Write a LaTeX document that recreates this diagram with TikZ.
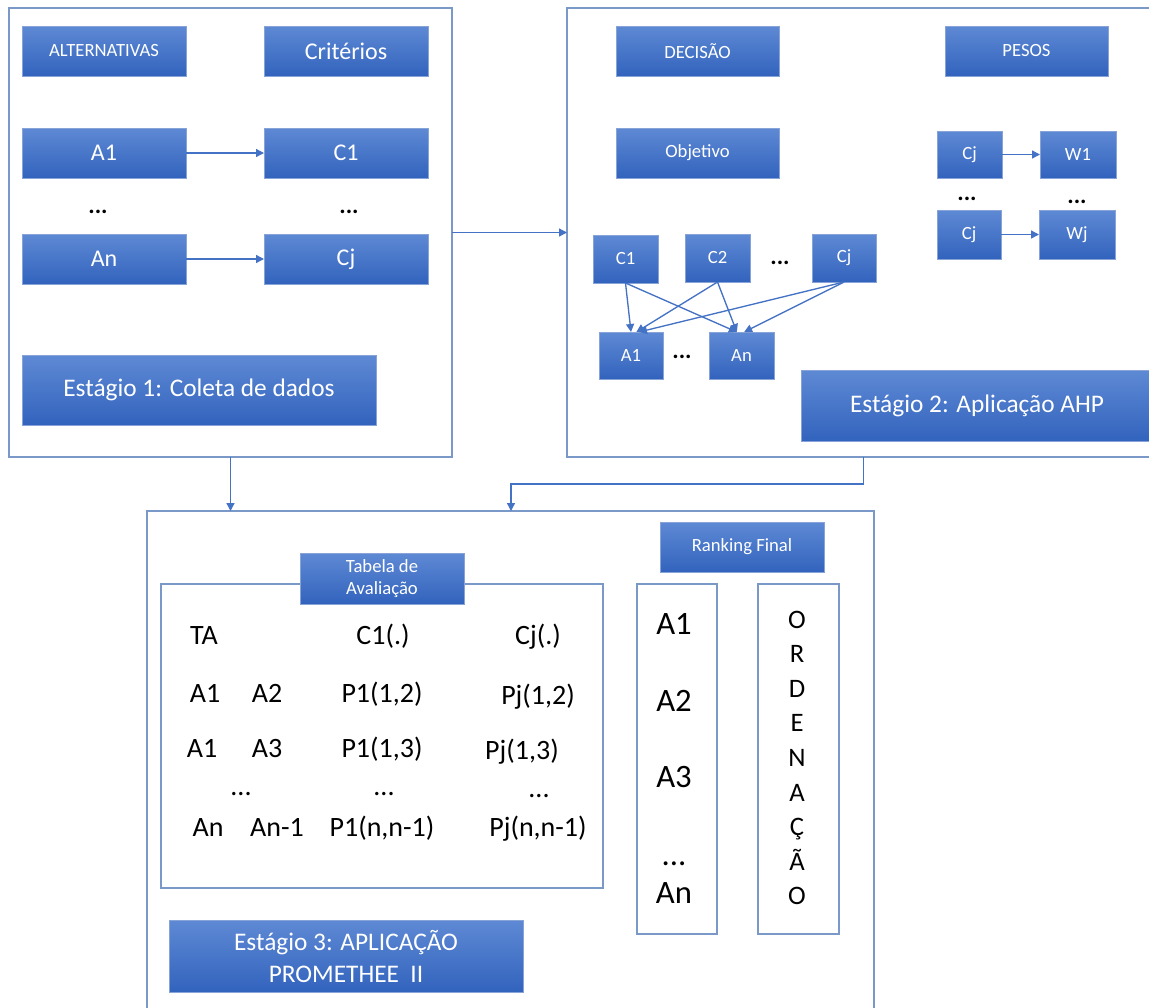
\documentclass[tikz,border=0pt]{standalone}
\usepackage{fontspec}
\setmainfont{Carlito}
\usetikzlibrary{arrows.meta}
\definecolor{btop}{RGB}{94,137,212}
\definecolor{bbot}{RGB}{50,99,189}
\definecolor{bedge}{RGB}{135,163,215}
\definecolor{framec}{RGB}{122,152,200}
\definecolor{conn}{RGB}{68,114,196}
\newcommand\mkbox[7][]{\node[#1, minimum width={(#5-#3)*0.75pt}, minimum height={(#6-#4)*0.75pt}] (#2) at ({(#3+#5)/2},{(#4+#6)/2}) {#7};}
\tikzset{
  bluebox/.style={inner sep=0pt, outer sep=0pt, draw=bedge, line width=0.75pt, top color=btop, bottom color=bbot, text=white, align=center},
  framebox/.style={draw=framec, line width=0.9pt, inner sep=0pt, outer sep=0pt},
  fsS/.style={font=\fontsize{14pt}{17pt}\selectfont},
  fsM/.style={font=\fontsize{18pt}{21pt}\selectfont},
  fsL/.style={font=\fontsize{19pt}{24pt}\selectfont},
  tt/.style={anchor=base, inner sep=0pt, font=\fontsize{21pt}{25pt}\selectfont},
  colt/.style={anchor=base, inner sep=0pt, font=\fontsize{24.5pt}{28pt}\selectfont},
  ordt/.style={anchor=base, inner sep=0pt, font=\fontsize{20pt}{24pt}\selectfont},
  dotsb/.style={anchor=base, inner sep=0pt, font=\bfseries\fontsize{18pt}{21pt}\selectfont},
  arr/.style={draw=conn, line width=1pt, -{Triangle[width=6pt,length=6pt]}},
}
\begin{document}
\begin{tikzpicture}[x=0.75pt,y=-0.75pt]
\useasboundingbox (0,0) rectangle (1149,1007);
\fill[white] (0,0) rectangle (1149,1007);
% outer frames
\mkbox[framebox]{st1}{9}{8}{452}{457}{}
\mkbox[framebox]{st2}{567}{8}{1160}{457}{}
\mkbox[framebox]{st3}{147}{511}{874}{1020}{}
% stage 1
\mkbox[bluebox,fsS]{alt}{22}{26}{186}{76}{ALTERNATIVAS}
\mkbox[bluebox,fsM]{crit}{264}{26}{428}{76}{Critérios}
\mkbox[bluebox,fsM]{a1}{22}{128}{186}{178}{A1}
\mkbox[bluebox,fsM]{c1}{264}{128}{428}{178}{C1}
\mkbox[bluebox,fsM]{an}{22}{234}{186}{284}{An}
\mkbox[bluebox,fsM]{cj}{264}{234}{428}{284}{Cj}
\mkbox[bluebox,fsL]{e1}{22}{355}{376}{425}{Estágio 1: Coleta de dados}
\node[dotsb] (d1) at (98,213) {...};
\node[dotsb] (d2) at (349,213) {...};
\draw[arr] (a1) -- (c1);
\draw[arr] (an) -- (cj);
% stage 2
\mkbox[bluebox,fsS]{dec}{616}{26}{779}{76}{DECISÃO}
\mkbox[bluebox,fsS]{pes}{945}{26}{1108}{76}{PESOS}
\mkbox[bluebox,fsS]{obj}{616}{128}{779}{178}{Objetivo}
\mkbox[bluebox,fsS]{wc1}{937}{131}{1002}{178}{Cj}
\mkbox[bluebox,fsS]{w1}{1040}{131}{1116}{178}{W1}
\mkbox[bluebox,fsS]{wc2}{937}{210}{1001}{259}{Cj}
\mkbox[bluebox,fsS]{wj}{1039}{210}{1115}{259}{Wj}
\node[dotsb] (d3) at (967,200) {...};
\node[dotsb] (d4) at (1077,203) {...};
\draw[arr] (wc1) -- (w1);
\draw[arr] (wc2) -- (wj);
\mkbox[bluebox,fsS]{ac1}{593}{235}{658}{283}{C1}
\mkbox[bluebox,fsS]{ac2}{685}{234}{750}{282}{C2}
\mkbox[bluebox,fsS]{acj}{812}{234}{876}{282}{Cj}
\node[dotsb] (d5) at (780,264) {...};
\mkbox[bluebox,fsS]{aa1}{599}{332}{663}{379}{A1}
\mkbox[bluebox,fsS]{aan}{709}{332}{774}{379}{An}
\node[dotsb] (d6) at (682,358) {...};
\draw[arr] (ac1.south) -- (aa1.north);
\draw[arr] (ac1.south) -- ([xshift=-3.5pt]aan.north);
\draw[arr] (ac2.south) -- ([xshift=4pt]aa1.north);
\draw[arr] (ac2.south) -- ([xshift=-3.5pt]aan.north);
\draw[arr] (acj.south) -- ([xshift=6pt]aa1.north);
\draw[arr] (acj.south) -- ([xshift=2pt]aan.north);
\mkbox[bluebox,fsL]{e2}{801}{370}{1153}{441}{Estágio 2: Aplicação AHP}
% stage connectors
\draw[arr] (st1) -- (st2);
\draw[arr] (st1.south) -- (st1.south |- st3.north);
\coordinate (j) at (511,484);
\draw[arr] (st2.south) |- (j) -- (j |- st3.north);
% stage 3
\mkbox[framebox]{tab}{161}{584}{603}{888}{}
\mkbox[bluebox,fsS]{tabh}{300}{553}{464}{604}{Tabela de\\Avaliação}
\mkbox[bluebox,fsS]{rk}{660}{522}{824}{572}{Ranking Final}
\mkbox[framebox]{colA}{637}{584}{717}{934}{}
\mkbox[framebox]{colO}{758}{584}{839}{934}{}
\mkbox[bluebox,fsL]{e3}{169}{920}{523}{992}{Estágio 3: APLICAÇÃO\\PROMETHEE\ \ II}
% table text
\node[tt] (t11) at (204,644) {TA};
\node[tt] (t12) at (383,644) {C1(.)};
\node[tt] (t13) at (538,644) {Cj(.)};
\node[tt] (t21) at (205,702) {A1};
\node[tt] (t22) at (267,702) {A2};
\node[tt] (t23) at (382,702) {P1(1,2)};
\node[tt] (t24) at (538,704) {Pj(1,2)};
\node[tt] (t31) at (202,757) {A1};
\node[tt] (t32) at (267,757) {A3};
\node[tt] (t33) at (382,757) {P1(1,3)};
\node[tt] (t34) at (522,759) {Pj(1,3)};
\node[tt] (t41) at (241,795) {...};
\node[tt] (t42) at (384,795) {...};
\node[tt] (t43) at (539,797) {...};
\node[tt] (t51) at (208,836) {An};
\node[tt] (t52) at (277,836) {An-1};
\node[tt] (t53) at (382,836) {P1(n,n-1)};
\node[tt] (t54) at (538,836) {Pj(n,n-1)};
% ranking column
\node[colt] (r1) at (674,634) {A1};
\node[colt] (r2) at (674,711) {A2};
\node[colt] (r3) at (674,787) {A3};
\node[colt] (r4) at (674,865) {...};
\node[colt] (r5) at (674,903) {An};
\foreach \l [count=\i from 0] in {O,R,D,E,N,A,Ç,Ã,O}
  \node[ordt] (ord\i) at (797,{628+34.6*\i}) {\l};
\end{tikzpicture}
\end{document}
